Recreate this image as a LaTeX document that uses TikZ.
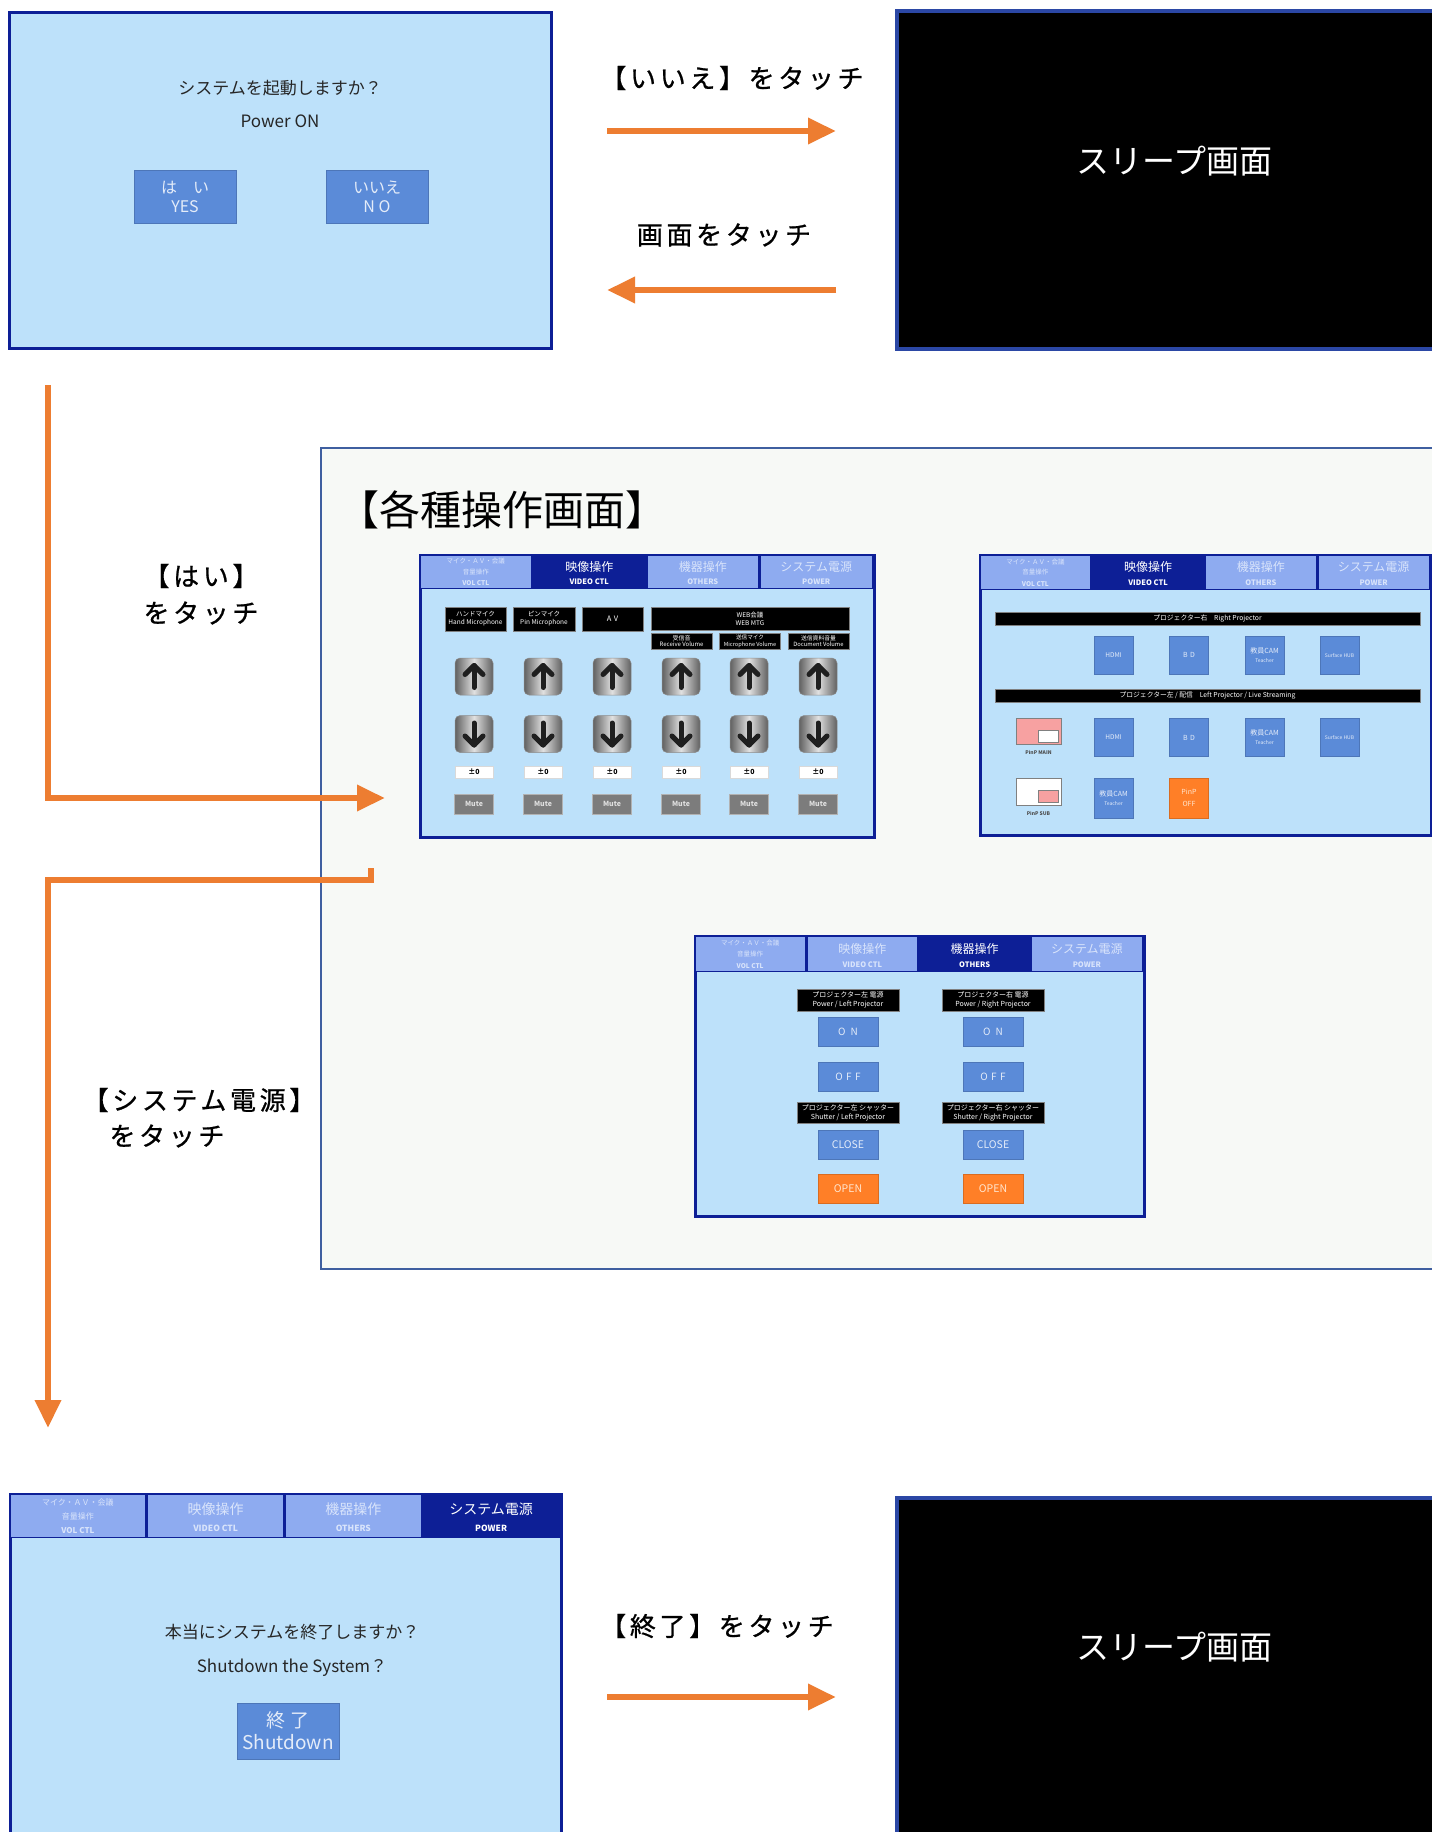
\documentclass[tikz,border=0pt]{standalone}
\usepackage{fontspec}
\setmainfont{Noto Sans CJK JP}
\newfontfamily\flowfont[LetterSpace=14,FakeBold=0.8]{Noto Sans CJK JP}
\usetikzlibrary{arrows.meta}
\definecolor{scrbg}{HTML}{BDE1FA}
\definecolor{navy}{HTML}{0D1F96}
\definecolor{tabin}{HTML}{8EABF0}
\definecolor{tabfg}{HTML}{D9E4FB}
\definecolor{btnblue}{HTML}{5B8BD8}
\definecolor{btnfg}{HTML}{E4ECF9}
\definecolor{flowc}{HTML}{ED7D31}
\definecolor{btnorange}{HTML}{FF7F27}
\definecolor{orangefg}{HTML}{FFE6CF}
\definecolor{contbg}{HTML}{F7F9F6}
\definecolor{contbd}{HTML}{3F5FA0}
\definecolor{mutegray}{HTML}{7C7C7C}
\definecolor{pinkp}{HTML}{F7A1A1}
\definecolor{sleepbd}{HTML}{2B47A5}
\tikzset{
  sz/.style 2 args={minimum width=#1pt,minimum height=#2pt},
  scr/.style={fill=scrbg,draw=navy,line width=3pt,inner sep=0pt},
  pnl/.style={fill=scrbg,draw=navy,line width=2.5pt,inner sep=0pt},
  sleep/.style={fill=black,draw=sleepbd,line width=4pt,inner sep=0pt},
  sleeptxt/.style={text=white,font=\fontsize{33}{33}\selectfont,inner sep=0pt},
  scrtxt/.style={text=black!85,font=\fontsize{17}{17}\selectfont,inner sep=0pt},
  flowtxt/.style={font=\flowfont\fontsize{26}{30}\selectfont,inner sep=0pt,align=center},
  flowarr/.style={draw=flowc,line width=6.5pt,-{Triangle[length=28pt,width=25pt]}},
  tabt/.style={inner sep=0pt},
  bbtn/.style={fill=btnblue,draw=btnblue!85!black,line width=0.5pt,text=btnfg,align=center,inner sep=0pt},
  obtn/.style={bbtn,fill=btnorange,draw=btnorange!85!black,text=orangefg},
  lbl/.style={fill=black,draw=gray,line width=0.4pt,text=white,align=center,inner sep=0pt},
  metal/.style={rounded corners=5pt,left color=black!62,right color=black!62,middle color=black!12,draw=black!45,line width=0.5pt,minimum width=38pt,minimum height=37pt,inner sep=0pt},
  glyph/.style={line width=5pt,line cap=round,line join=round,black!88},
  zero/.style={fill=white,draw=black!15,font=\bfseries\fontsize{7}{7}\selectfont,minimum width=38pt,minimum height=12pt,inner sep=0pt},
  mute/.style={fill=mutegray,draw=black!30,text=white!88!black,font=\bfseries\fontsize{7}{7}\selectfont,minimum width=39pt,minimum height=20pt,inner sep=0pt},
  pinpl/.style={font=\bfseries\fontsize{5}{5}\selectfont,text=black!70,inner sep=0pt}
}
% tab bar: name, x0, y0, x1, y1, active, main size, sub size, tab0 size
\newcommand\tabbar[9]{%
  \fill[navy] (#2,#3) rectangle (#4,#5);
  \foreach \i/\tabja/\taben in {0/x/x,1/映像操作/VIDEO CTL,2/機器操作/OTHERS,3/システム電源/POWER}{%
    \pgfmathsetmacro\xa{#2+\i*(#4-#2)/4}%
    \pgfmathsetmacro\xb{#2+(\i+1)*(#4-#2)/4}%
    \pgfmathsetmacro\xm{(\xa+\xb)/2}%
    \pgfmathsetmacro\hh{#5-#3}%
    \ifnum\i=#6\relax\def\tabcol{white}\else\def\tabcol{tabfg}%
      \fill[tabin] (\xa+1.5,#3+1.5) rectangle (\xb-1.5,#5-1.5);\fi
    \ifnum\i=0\relax
      \node[tabt,text=\tabcol,font=\fontsize{#9}{#9}\selectfont] (#1-tab0a) at (\xm,#3+0.21*\hh) {マイク・ＡＶ・会議};
      \node[tabt,text=\tabcol,font=\fontsize{#9}{#9}\selectfont] (#1-tab0b) at (\xm,#3+0.51*\hh) {音量操作};
      \node[tabt,text=\tabcol,font=\bfseries\fontsize{#9}{#9}\selectfont] (#1-tab0c) at (\xm,#3+0.84*\hh) {VOL CTL};
    \else
      \node[tabt,text=\tabcol,font=\fontsize{#7}{#7}\selectfont] (#1-tab\i a) at (\xm,#3+0.37*\hh) {\tabja};
      \node[tabt,text=\tabcol,font=\bfseries\fontsize{#8}{#8}\selectfont] (#1-tab\i b) at (\xm,#3+0.79*\hh) {\taben};
    \fi
  }}
% volume button: name, cx, cy, dir (1 up, -1 down)
\newcommand\volbtn[4]{%
  \node[metal] (#1) at (#2,#3) {};
  \draw[glyph] ({#2},{#3+11*(#4)}) -- ({#2},{#3-11*(#4)});
  \draw[glyph] ({#2-9},{#3-2*(#4)}) -- ({#2},{#3-11*(#4)}) -- ({#2+9},{#3-2*(#4)});
}
\begin{document}
\begin{tikzpicture}[x=1pt,y=-1pt]
\clip (0,0) rectangle (1432,1832);
\fill[white] (0,0) rectangle (1432,1832);

% ---------- start screen ----------
\node[scr,sz={542}{336}] (start) at (280,180) {};
\node[scrtxt] (q1) at (280,88) {システムを起動しますか？};
\node[scrtxt] (q1en) at (280,121) {Power ON};
\node[bbtn,sz={102}{53},font=\fontsize{16}{19}\selectfont] (yes) at (185,197) {は　い\\YES};
\node[bbtn,sz={102}{53},font=\fontsize{16}{19}\selectfont] (no) at (377,197) {いいえ\\N O};

% ---------- sleep screen 1 ----------
\node[sleep,sz={552}{338},anchor=north west] (sleep1) at (895,9) {};
\node[sleeptxt] (sleep1t) at (1174,161) {スリープ画面};

\node[flowtxt] (lblno) at (732,78) {【いいえ】をタッチ};
\coordinate (a1s) at (607,131);
\coordinate (a1e) at (836,131);
\draw[flowarr] (a1s) -- (a1e);
\node[flowtxt] (lblwake) at (724,235) {画面をタッチ};
\coordinate (a2s) at (836,290);
\coordinate (a2e) at (607,290);
\draw[flowarr] (a2s) -- (a2e);

% ---------- operations container ----------
\node[draw=contbd,fill=contbg,line width=2pt,sz={1130}{821},anchor=north west,inner sep=0pt] (ops) at (320,447) {};
\node[font=\fontsize{41}{41}\selectfont,anchor=west,inner sep=0pt] (opstitle) at (338,510) {【各種操作画面】};

% flow from start screen
\coordinate (b0) at (48,385);
\coordinate (b1) at (385,798);
\draw[flowarr] (b0) |- (b1);
\node[flowtxt] (lblyes1) at (201,576) {【はい】};
\node[flowtxt] (lblyes2) at (201,613) {をタッチ};

\coordinate (c0) at (371,868);
\coordinate (c0b) at (371,880);
\coordinate (c1) at (48,1428);
\draw[flowarr] (c0) -- (c0b) -| (c1);
\node[flowtxt] (lblpw1) at (199,1100) {【システム電源】};
\node[flowtxt] (lblpw2) at (167,1136) {をタッチ};

% ---------- panel 1 : volume ----------
\node[pnl,sz={454}{282},anchor=north west] (vol) at (419,554) {};
\tabbar{vol}{419}{554}{873}{589}{1}{12}{7.5}{6.5}
\node[lbl,sz={61}{24},font=\fontsize{6.5}{8}\selectfont] (vol-hm) at (475.5,619) {ハンドマイク\\Hand Microphone};
\node[lbl,sz={62}{24},font=\fontsize{6.5}{8}\selectfont] (vol-pm) at (544,619) {ピンマイク\\Pin Microphone};
\node[lbl,sz={61}{24},font=\fontsize{7.5}{7.5}\selectfont] (vol-av) at (612.5,619) {A\,\,V};
\node[lbl,sz={198}{23},font=\fontsize{6.5}{8}\selectfont] (vol-web) at (750,618.5) {WEB会議\\WEB MTG};
\node[lbl,sz={61}{16},font=\fontsize{6}{6.8}\selectfont] (vol-rx) at (681.5,641) {受信音\\Receive Volume};
\node[lbl,sz={61}{16},font=\fontsize{5.6}{6.8}\selectfont] (vol-tx) at (750,641) {送信マイク\\Microphone Volume};
\node[lbl,sz={61}{16},font=\fontsize{5.8}{6.8}\selectfont] (vol-doc) at (818.5,641) {送信資料音量\\Document Volume};
\foreach \i/\x in {1/474,2/543,3/612,4/681,5/749,6/818}{
  \volbtn{vol-up\i}{\x}{676.5}{1}
  \volbtn{vol-dn\i}{\x}{734}{-1}
  \node[zero] (vol-z\i) at (\x,772) {±0};
  \node[mute] (vol-m\i) at (\x,804) {Mute};
}

% ---------- panel 2 : video ----------
\node[pnl,sz={451}{280},anchor=north west] (vid) at (979,554) {};
\tabbar{vid}{979}{554}{1430}{590}{1}{12}{7.5}{6.5}
\node[lbl,sz={425}{13},font=\fontsize{6.8}{6.8}\selectfont] (vid-rp) at (1207.5,618.5) {プロジェクター右　Right Projector};
\node[lbl,sz={425}{13},font=\fontsize{6.8}{6.8}\selectfont] (vid-lp) at (1207.5,695.5) {プロジェクター左 / 配信　Left Projector / Live Streaming};
\foreach \r/\y in {r/655,l/737.5}{
  \node[bbtn,sz={39}{38},font=\fontsize{6.5}{6.5}\selectfont] (vid-\r hdmi) at (1113.5,\y) {HDMI};
  \node[bbtn,sz={39}{38},font=\fontsize{7}{7}\selectfont] (vid-\r bd) at (1189,\y) {B\,\,D};
  \node[bbtn,sz={39}{38},font=\fontsize{7}{9}\selectfont] (vid-\r cam) at (1264.5,\y) {教員CAM\\{\fontsize{5}{5}\selectfont Teacher}};
  \node[bbtn,sz={39}{38},font=\fontsize{5}{5}\selectfont] (vid-\r hub) at (1339.5,\y) {Surface HUB};
}
\node[bbtn,sz={39}{40},font=\fontsize{7}{9}\selectfont] (vid-scam) at (1113.5,798) {教員CAM\\{\fontsize{5}{5}\selectfont Teacher}};
\node[obtn,sz={39}{40},font=\fontsize{7}{12}\selectfont] (vid-off) at (1189,798) {PinP\\OFF};
\node[draw=gray,line width=0.8pt,fill=pinkp,sz={45}{26},anchor=north west,inner sep=0pt] (vid-main) at (1016,718) {};
\node[draw=gray,line width=0.6pt,fill=white,sz={20}{12},anchor=north west,inner sep=0pt] (vid-maini) at (1038,730) {};
\node[pinpl] (vid-mainl) at (1038.5,752) {PinP MAIN};
\node[draw=gray,line width=0.8pt,fill=white,sz={45}{27},anchor=north west,inner sep=0pt] (vid-sub) at (1016,778) {};
\node[draw=gray,line width=0.6pt,fill=pinkp,sz={20}{12},anchor=north west,inner sep=0pt] (vid-subi) at (1038,790) {};
\node[pinpl] (vid-subl) at (1038.5,813) {PinP SUB};

% ---------- panel 3 : others ----------
\node[pnl,sz={449}{280},anchor=north west] (oth) at (694,935) {};
\tabbar{oth}{694}{935}{1143}{972}{2}{12}{7.5}{6.5}
\foreach \s/\x/\ja/\en in {l/848/左/Left,r/993/右/Right}{
  \node[lbl,sz={102}{22},font=\fontsize{7}{9}\selectfont] (oth-\s pw) at (\x,1000) {プロジェクター\ja\ 電源\\Power / \en\ Projector};
  \node[bbtn,sz={60}{29},font=\fontsize{10}{10}\selectfont] (oth-\s on) at (\x,1031.5) {O\,\,\,N};
  \node[bbtn,sz={60}{29},font=\fontsize{10}{10}\selectfont] (oth-\s off) at (\x,1076.5) {O\,\,F\,\,F};
  \node[lbl,sz={102}{21},font=\fontsize{7}{9}\selectfont] (oth-\s sh) at (\x,1112.5) {プロジェクター\ja\ シャッター\\Shutter / \en\ Projector};
  \node[bbtn,sz={60}{29},font=\fontsize{10.5}{10.5}\selectfont] (oth-\s close) at (\x,1144.5) {CLOSE};
  \node[obtn,sz={60}{29},font=\fontsize{10.5}{10.5}\selectfont] (oth-\s open) at (\x,1188.5) {OPEN};
}

% ---------- power screen ----------
\node[pnl,line width=3pt,sz={551}{360},anchor=north west] (pwr) at (9,1493) {};
\tabbar{pwr}{9}{1493}{560}{1538}{3}{14}{8.5}{8}
\node[scrtxt] (pwr-q) at (292,1632) {本当にシステムを終了しますか？};
\node[scrtxt] (pwr-qen) at (292,1668) {Shutdown the System？};
\node[bbtn,sz={102}{56},font=\fontsize{19}{22}\selectfont] (shut) at (288,1731) {終 了\\Shutdown};

% ---------- sleep screen 2 ----------
\node[sleep,sz={552}{350},anchor=north west] (sleep2) at (895,1496) {};
\node[sleeptxt] (sleep2t) at (1174,1647) {スリープ画面};
\node[flowtxt] (lblend) at (717,1626) {【終了】をタッチ};
\coordinate (d0) at (607,1697);
\coordinate (d1) at (836,1697);
\draw[flowarr] (d0) -- (d1);
\end{tikzpicture}
\end{document}
